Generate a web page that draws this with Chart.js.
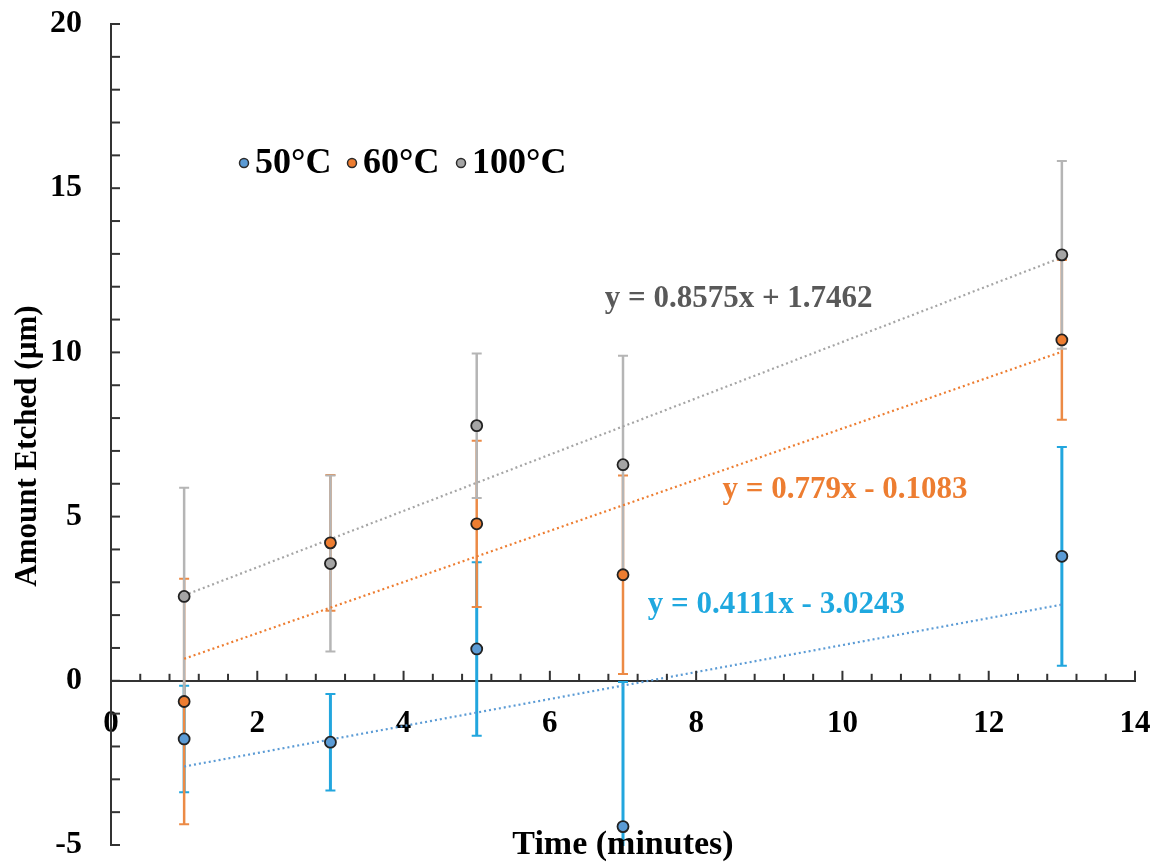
<!DOCTYPE html>
<html>
<head>
<meta charset="utf-8">
<script src="https://cdn.jsdelivr.net/npm/chart.js@4.4.1/dist/chart.umd.min.js"></script>
<style>
  html, body { margin: 0; padding: 0; background: #fff; }
  #wrap { width: 1158px; height: 863px; }
</style>
</head>
<body>
<div id="wrap"><canvas id="etchChart" width="1158" height="863"></canvas></div>
<script>
// etch time (minutes)
const times = [1, 3, 5, 7, 13];

// mean amount etched (um) and error bar half-widths
const etch50 = [-1.77, -1.87, 0.97, -4.44, 3.79];
const err50 = [1.62, 1.47, 2.64, 4.40, 3.33];
const etch60 = [-0.63, 4.20, 4.78, 3.23, 10.38];
const err60 = [3.74, 2.07, 2.53, 3.02, 2.43];
const etch100 = [2.57, 3.57, 7.77, 6.58, 12.97];
const err100 = [3.31, 2.68, 2.20, 3.32, 2.86];

// linear trendlines (end points)
const trendX = [1, 13];
const trend50 = [-2.61, 2.32];
const trend60 = [0.67, 10.02];
const trend100 = [2.60, 12.89];

const seriesLabels = ['50°C', '60°C', '100°C'];
const trendLabels = ['y = 0.4111x - 3.0243', 'y = 0.779x - 0.1083', 'y = 0.8575x + 1.7462'];

const xTicks = [0, 2, 4, 6, 8, 10, 12, 14];
const yTicks = [-5, 0, 5, 10, 15, 20];

const pointColors = ['#5b9bd5', '#ed7d31', '#a5a5a5'];
const barColors = ['#22a6de', '#ec8a45', '#b5b5b5'];
const textColors = ['#1fa8df', '#ed7d31', '#595959'];
const FONT = '"Liberation Serif", "Times New Roman", serif';

const toPts = (xs, ys) => xs.map((x, i) => ({x: x, y: ys[i]}));

// error bars, drawn under the markers
const errorBars = {
  id: 'errorBars',
  beforeDatasetsDraw(chart) {
    const {ctx, chartArea, scales: {x, y}} = chart;
    const sets = [[etch50, err50], [etch60, err60], [etch100, err100]];
    ctx.save();
    ctx.beginPath();
    ctx.rect(chartArea.left, chartArea.top, chartArea.right - chartArea.left, chartArea.bottom - chartArea.top + 1);
    ctx.clip();
    sets.forEach(([vals, errs], s) => {
      const w = s === 0 ? 3 : 2.5;
      ctx.strokeStyle = barColors[s];
      vals.forEach((v, i) => {
        const px = x.getPixelForValue(times[i]);
        const top = y.getPixelForValue(v + errs[i]);
        const bot = y.getPixelForValue(v - errs[i]);
        ctx.lineWidth = w;
        ctx.beginPath();
        ctx.moveTo(px, top); ctx.lineTo(px, bot);
        ctx.stroke();
        ctx.lineWidth = 2;
        ctx.beginPath();
        ctx.moveTo(px - 5, top); ctx.lineTo(px + 5, top);
        ctx.moveTo(px - 5, bot); ctx.lineTo(px + 5, bot);
        ctx.stroke();
      });
    });
    ctx.restore();
  }
};

// inward tick marks, titles, equations and legend
const decorations = {
  id: 'decorations',
  afterDraw(chart) {
    const {ctx, chartArea, scales: {x, y}} = chart;
    ctx.save();
    ctx.strokeStyle = '#333';
    ctx.lineWidth = 2;
    const y0 = y.getPixelForValue(0);
    for (let i = 0; i <= 35; i++) {
      const px = x.getPixelForValue(i * 0.4);
      const len = i % 5 === 0 ? 10 : 7;
      ctx.beginPath();
      ctx.moveTo(px, y0); ctx.lineTo(px, y0 - len);
      ctx.stroke();
    }
    for (let v = -5; v <= 20; v++) {
      const py = y.getPixelForValue(v);
      ctx.beginPath();
      ctx.moveTo(chartArea.left, py); ctx.lineTo(chartArea.left + 9, py);
      ctx.stroke();
    }

    // axis titles
    ctx.fillStyle = '#000';
    ctx.textAlign = 'center';
    ctx.textBaseline = 'middle';
    ctx.font = 'bold 34px ' + FONT;
    ctx.fillText('Time (minutes)', (chartArea.left + chartArea.right) / 2, 845);
    ctx.save();
    ctx.translate(28, 446);
    ctx.rotate(-Math.PI / 2);
    ctx.font = 'bold 31px ' + FONT;
    ctx.fillText('Amount Etched (µm)', 0, 0);
    ctx.restore();

    // trendline equations
    const eqPos = [[7.34, 2.31], [8.36, 5.80], [6.75, 11.63]];
    ctx.textAlign = 'left';
    ctx.font = 'bold 31px ' + FONT;
    eqPos.forEach((p, s) => {
      ctx.fillStyle = textColors[s];
      ctx.fillText(trendLabels[s], x.getPixelForValue(p[0]), y.getPixelForValue(p[1]));
    });

    // legend
    const legendX = [244, 352, 461];
    ctx.font = 'bold 36px ' + FONT;
    seriesLabels.forEach((lab, s) => {
      ctx.beginPath();
      ctx.arc(legendX[s], 163, 4.5, 0, Math.PI * 2);
      ctx.fillStyle = pointColors[s];
      ctx.fill();
      ctx.lineWidth = 1.5;
      ctx.strokeStyle = '#2b2b2b';
      ctx.stroke();
      ctx.fillStyle = '#000';
      ctx.fillText(lab, legendX[s] + 11, 164);
    });
    ctx.restore();
  }
};

const trendSet = (data, color) => ({
  type: 'line',
  data: toPts(trendX, data),
  borderColor: color,
  borderWidth: 2.2,
  borderDash: [2, 3],
  pointRadius: 0,
  fill: false,
  order: 2
});

const pointSet = (label, data, color) => ({
  label: label,
  data: toPts(times, data),
  backgroundColor: color,
  borderColor: '#222',
  borderWidth: 1.8,
  pointRadius: 5.5,
  pointHoverRadius: 5.5,
  order: 1
});

new Chart(document.getElementById('etchChart'), {
  type: 'scatter',
  data: {
    datasets: [
      trendSet(trend50, '#5b9bd5'),
      trendSet(trend60, '#ed7d31'),
      trendSet(trend100, '#a5a5a5'),
      pointSet(seriesLabels[0], etch50, pointColors[0]),
      pointSet(seriesLabels[1], etch60, pointColors[1]),
      pointSet(seriesLabels[2], etch100, pointColors[2])
    ]
  },
  options: {
    responsive: false,
    animation: false,
    layout: { padding: { left: 0, top: 24, right: 23, bottom: 18 } },
    plugins: { legend: { display: false }, tooltip: { enabled: false } },
    scales: {
      x: {
        type: 'linear',
        position: { y: 0 },
        min: 0, max: 14,
        afterBuildTicks: (scale) => { scale.ticks = xTicks.map(v => ({value: v})); },
        afterFit: (scale) => {
          scale.paddingLeft = 0; scale.paddingRight = 0;
          scale.paddingTop = 0; scale.paddingBottom = 0;
        },
        grid: { display: false, drawTicks: false },
        border: { display: true, color: '#333', width: 2 },
        ticks: { padding: 25, color: '#000', font: { family: FONT, size: 31, weight: 'bold' } }
      },
      y: {
        type: 'linear',
        min: -5, max: 20,
        afterBuildTicks: (scale) => { scale.ticks = yTicks.map(v => ({value: v})); },
        afterFit: (scale) => {
          scale.width = 111;
          scale.paddingTop = 0; scale.paddingBottom = 0;
        },
        grid: { display: false, drawTicks: false },
        border: { display: true, color: '#333', width: 2 },
        ticks: { padding: 29, color: '#000', font: { family: FONT, size: 32, weight: 'bold' } }
      }
    }
  },
  plugins: [errorBars, decorations]
});
</script>
</body>
</html>
